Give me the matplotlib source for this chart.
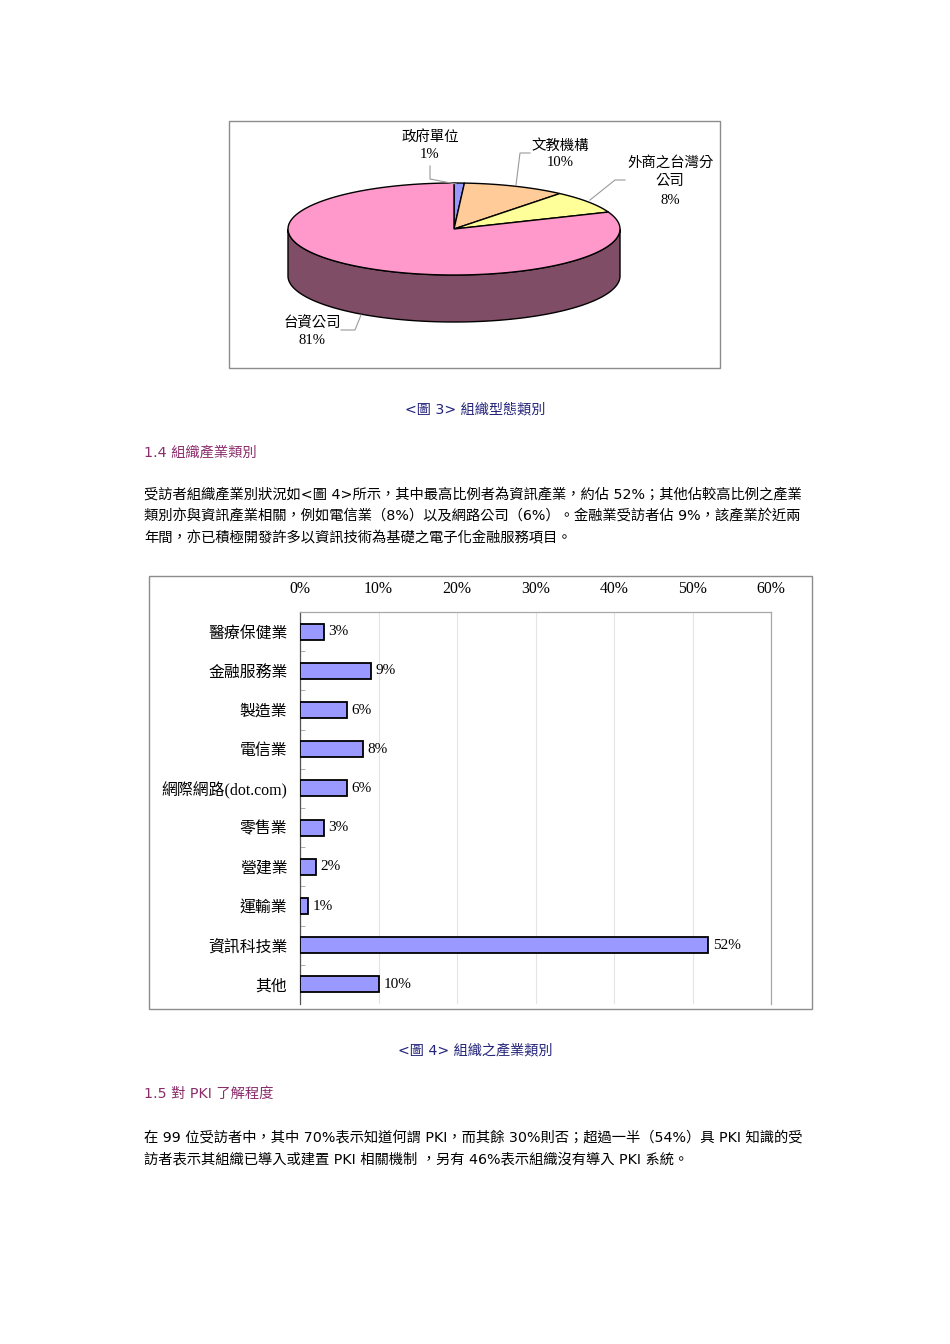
import numpy as np
import matplotlib
matplotlib.use("Agg")
import matplotlib.pyplot as plt
from matplotlib.patches import Polygon, Rectangle
from matplotlib.ticker import FixedLocator, PercentFormatter
from matplotlib.colors import to_rgb

# ---- data ----
org_types = ["政府單位", "文教機構", "外商之台灣分\n公司", "台資公司"]
org_share = [1, 10, 8, 81]
org_colors = ["#9999FF", "#FFCC99", "#FFFF99", "#FF99CC"]

industries = ["醫療保健業", "金融服務業", "製造業", "電信業", "網際網路(dot.com)",
              "零售業", "營建業", "運輸業", "資訊科技業", "其他"]
industry_share = [0.03, 0.09, 0.06, 0.08, 0.06, 0.03, 0.02, 0.01, 0.52, 0.10]
xticks = [0, 0.1, 0.2, 0.3, 0.4, 0.5, 0.6]

CJK = ["DejaVu Sans", "Noto Sans CJK TC"]
SERIF = ["Liberation Serif", "Noto Sans CJK TC"]
NAVY = "#23237A"
PURPLE = "#8B2D6B"
BOXC = "#8C8C8C"

plt.rcParams["font.family"] = CJK

fig = plt.figure(figsize=(9.5, 13.44), dpi=100)
page = fig.add_axes([0, 0, 1, 1])
page.set_xlim(0, 950)
page.set_ylim(1344, 0)
page.axis("off")

# ---- figure 3: 3D pie ----
page.add_patch(Rectangle((229, 121), 491, 247, fill=False, ec=BOXC, lw=1))
cx, cy, a, b, depth = 454, 229, 166, 46, 47


def ell(t):
    t = np.radians(t)
    return cx + a * np.cos(t), cy - b * np.sin(t)


bounds = 90 - np.concatenate([[0], np.cumsum(org_share)]) * 3.6
# side walls (front half only, 180..360 deg)
for i in range(len(org_share)):
    t1, t0 = bounds[i], bounds[i + 1]  # t0 < t1
    for k in (-1, 0):
        lo = max(t0, 180 + 360 * k)
        hi = min(t1, 360 + 360 * k)
        if hi <= lo:
            continue
        tt = np.linspace(lo, hi, 120)
        xs, ys = ell(tt)
        side = np.column_stack([np.r_[xs, xs[::-1]], np.r_[ys, ys[::-1] + depth]])
        dark = tuple(c * 0.5 for c in to_rgb(org_colors[i]))
        page.add_patch(Polygon(side, closed=True, fc=dark, ec="black", lw=1, zorder=2))

for i in range(len(org_share)):
    tt = np.linspace(bounds[i], bounds[i + 1], 200)
    xs, ys = ell(tt)
    pts = np.column_stack([np.r_[cx, xs], np.r_[cy, ys]])
    page.add_patch(Polygon(pts, closed=True, fc=org_colors[i], ec="black", lw=1, zorder=3))

# labels and leader lines
lab_pos = [(430, 137), (560, 146), (670, 172), (312, 324)]
pct_dy = [17, 17, 28, 17]
leaders = [[(430, 166), (430, 179), (456, 184)],
           [(530, 153), (520, 153), (516, 185)],
           [(625, 180), (615, 180), (590, 200)],
           [(341, 330), (355, 330), (361, 315)]]
for name, val, (lx, ly), dy, ld in zip(org_types, org_share, lab_pos, pct_dy, leaders):
    page.text(lx, ly, name, ha="center", va="center", fontsize=10.4,
              family=SERIF, linespacing=1.45, zorder=5)
    page.text(lx, ly + dy, f"{val}%", ha="center", va="center", fontsize=10.6,
              family=SERIF, zorder=5)
    lx_, ly_ = zip(*ld)
    page.plot(lx_, ly_, color="#9A9A9A", lw=0.8, zorder=4)

# ---- text ----
page.text(475, 409, "<圖 3> 組織型態類別", ha="center", va="center", fontsize=10.2, color=NAVY)
page.text(144, 452, "1.4 組織產業類別", ha="left", va="center", fontsize=10.3, color=PURPLE)
para1 = ["受訪者組織產業別狀況如<圖 4>所示，其中最高比例者為資訊產業，約佔 52%；其他佔較高比例之產業",
         "類別亦與資訊產業相關，例如電信業（8%）以及網路公司（6%）。金融業受訪者佔 9%，該產業於近兩",
         "年間，亦已積極開發許多以資訊技術為基礎之電子化金融服務項目。"]
for j, line in enumerate(para1):
    page.text(144, 495 + j * 21.5, line, ha="left", va="center", fontsize=10.3)

page.text(475, 1050, "<圖 4> 組織之產業類別", ha="center", va="center", fontsize=10.2, color=NAVY)
page.text(144, 1094, "1.5 對 PKI 了解程度", ha="left", va="center", fontsize=10.3, color=PURPLE)
para2 = ["在 99 位受訪者中，其中 70%表示知道何謂 PKI，而其餘 30%則否；超過一半（54%）具 PKI 知識的受",
         "訪者表示其組織已導入或建置 PKI 相關機制 ，另有 46%表示組織沒有導入 PKI 系統。"]
for j, line in enumerate(para2):
    page.text(144, 1137 + j * 22, line, ha="left", va="center", fontsize=10.3)

# ---- figure 4: horizontal bars ----
page.add_patch(Rectangle((149, 576), 663, 433, fill=False, ec=BOXC, lw=1))
W, H = 950, 1344
ax = fig.add_axes([300 / W, 1 - 1004 / H, 471 / W, 392 / H])
ypos = np.arange(len(industries))
ax.barh(ypos, industry_share, height=0.41, color="#9999FF", edgecolor="black",
        linewidth=1.3, zorder=3)
for y, v in zip(ypos, industry_share):
    ax.text(v + 0.006, y, f"{v * 100:.0f}%", ha="left", va="center",
            fontsize=11, family=SERIF, zorder=4)
ax.set_xlim(0, 0.6)
ax.set_ylim(len(industries) - 0.5, -0.5)
ax.xaxis.set_major_locator(FixedLocator(xticks))
ax.xaxis.set_major_formatter(PercentFormatter(1.0, decimals=0))
ax.xaxis.tick_top()
ax.tick_params(axis="x", length=0, pad=10.5, labelsize=11.3)
for t in ax.get_xticklabels():
    t.set_fontfamily(SERIF)
ax.set_yticks(ypos)
ax.set_yticklabels(industries, fontsize=11.4)
for t in ax.get_yticklabels():
    t.set_fontfamily(SERIF)
ax.tick_params(axis="y", which="major", length=0, pad=9)
ax.set_yticks(np.arange(len(industries) - 1) + 0.5, minor=True)
ax.tick_params(axis="y", which="minor", direction="in", length=3.5, color="#A0A0A0")
ax.grid(axis="x", color="#E4E4E4", lw=0.8, zorder=0)
ax.spines["bottom"].set_visible(False)
ax.spines["top"].set_color("#A8A8A8")
ax.spines["right"].set_color("#A8A8A8")
ax.spines["left"].set_color("#555555")
for s in ax.spines.values():
    s.set_linewidth(0.9)

fig.savefig("out.png", dpi=100)
